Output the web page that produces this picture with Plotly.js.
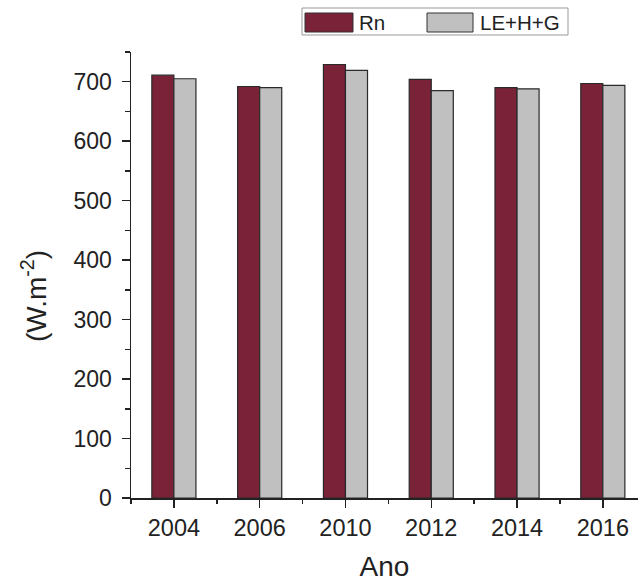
<!DOCTYPE html>
<html>
<head>
<meta charset="utf-8">
<script src="https://cdn.plot.ly/plotly-3.0.1.min.js"></script>
<style>html,body{margin:0;padding:0;background:#fff;}#chart{width:638px;height:583px;}</style>
</head>
<body>
<div id="chart"></div>
<script>
const categories = ["2004", "2006", "2010", "2012", "2014", "2016"];
const seriesNames = ["Rn", "LE+H+G"];
const rnValues = [711, 692, 729, 704, 690, 697];
const leValues = [705, 690, 719, 685, 688, 694];
const yTickVals = [0, 100, 200, 300, 400, 500, 600, 700];
const xTitle = "Ano";
const yTitle = "(W.m<sup>-2</sup>)";

const colors = ["#7a2238", "#c0c0c0"];
const idx = categories.map((_, i) => i);

const traces = [
  {type: "bar", name: seriesNames[0], x: idx, y: rnValues,
   marker: {color: colors[0], line: {color: "#2a2a2a", width: 1.2}}, showlegend: false},
  {type: "bar", name: seriesNames[1], x: idx, y: leValues,
   marker: {color: colors[1], line: {color: "#2a2a2a", width: 1.2}}, showlegend: false}
];

// plot area in pixels
const L = 131, R = 638, T = 52, B = 498, W = 638, H = 583;
const px = v => (v - L) / (R - L);
const py = v => (B - v) / (B - T);

const shapes = [
  {type: "rect", xref: "paper", yref: "paper", x0: px(302), x1: px(568), y0: py(35), y1: py(8),
   line: {color: "#999", width: 1}, fillcolor: "rgba(0,0,0,0)"},
  {type: "rect", xref: "paper", yref: "paper", x0: px(305), x1: px(353), y0: py(32), y1: py(13),
   line: {color: "#333", width: 1}, fillcolor: colors[0]},
  {type: "rect", xref: "paper", yref: "paper", x0: px(427), x1: px(473), y0: py(32), y1: py(13),
   line: {color: "#333", width: 1}, fillcolor: colors[1]}
];
const legendFont = {family: "Liberation Sans, Arial", size: 20.5, color: "#222"};
const annotations = [
  {xref: "paper", yref: "paper", x: px(357), y: py(22), text: seriesNames[0], showarrow: false,
   xanchor: "left", yanchor: "middle", font: legendFont},
  {xref: "paper", yref: "paper", x: px(478), y: py(22), text: seriesNames[1], showarrow: false,
   xanchor: "left", yanchor: "middle", font: legendFont},
  {xref: "paper", yref: "paper", x: px(34), y: py(296), text: yTitle, showarrow: false,
   textangle: -90, xanchor: "center", yanchor: "middle",
   font: {family: "Liberation Sans, Arial", size: 28, color: "#222"}}
];

const layout = {
  width: W, height: H,
  margin: {l: L, r: W - R, t: T, b: H - B},
  paper_bgcolor: "#fff", plot_bgcolor: "#fff",
  font: {family: "Liberation Sans, Arial", color: "#222", size: 23},
  barmode: "group", bargap: 0.486, bargroupgap: 0,
  showlegend: false,
  xaxis: {
    range: [-0.5, 5.41], tickvals: idx, ticktext: categories,
    showline: true, linecolor: "#222", linewidth: 1.5,
    ticks: "outside", ticklen: 8, tickwidth: 1.5, tickcolor: "#222",
    minor: {dtick: 0.5, tick0: 0.5, ticks: "outside", ticklen: 4, tickwidth: 1.5, tickcolor: "#222"},
    showgrid: false, zeroline: false,
    tickfont: {size: 23.5},
    title: {text: xTitle, font: {size: 28}, standoff: 16}
  },
  yaxis: {
    range: [0, 750], tickvals: yTickVals,
    showline: true, linecolor: "#222", linewidth: 1.5,
    ticks: "outside", ticklen: 8, tickwidth: 1.5, tickcolor: "#222",
    ticklabelstandoff: 5,
    minor: {dtick: 50, ticks: "outside", ticklen: 5, tickwidth: 1.5, tickcolor: "#222"},
    showgrid: false, zeroline: false,
    tickfont: {size: 23}
  },
  shapes: shapes,
  annotations: annotations
};

Plotly.newPlot("chart", traces, layout, {displayModeBar: false, staticPlot: true});
</script>
</body>
</html>
